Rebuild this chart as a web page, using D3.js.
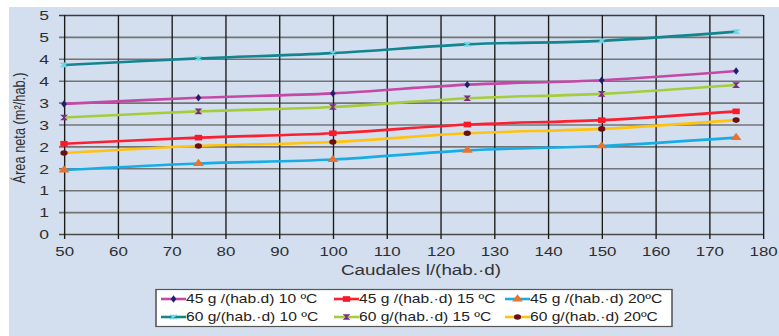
<!DOCTYPE html>
<html>
<head>
<meta charset="utf-8">
<script src="https://cdn.jsdelivr.net/npm/d3@7"></script>
<style>
  html, body { margin: 0; padding: 0; background: #ffffff; }
  svg { display: block; font-family: "Liberation Sans", Arial, sans-serif; }
</style>
</head>
<body>
<svg id="chart" width="779" height="336"></svg>
<script>
// Flow rates (x) and net area (y) per design case
const caudales = [50, 75, 100, 125, 150, 175];

const s45_10 = [2.97, 3.11, 3.21, 3.41, 3.51, 3.72];
const s45_15 = [2.06, 2.20, 2.30, 2.50, 2.60, 2.80];
const s45_20 = [1.46, 1.61, 1.70, 1.91, 2.01, 2.20];
const s60_10 = [3.86, 4.01, 4.13, 4.33, 4.41, 4.62];
const s60_15 = [2.66, 2.80, 2.90, 3.10, 3.20, 3.40];
const s60_20 = [1.85, 2.01, 2.10, 2.30, 2.40, 2.60];

const seriesNames = [
  "45 g /(hab.d) 10 ºC", "45 g /(hab.·d) 15 ºC", "45 g /(hab.·d) 20ºC",
  "60 g/(hab.·d) 10 ºC", "60 g/(hab.·d) 15 ºC", "60 g/(hab.·d) 20ºC"
];

const xTicks = [50, 60, 70, 80, 90, 100, 110, 120, 130, 140, 150, 160, 170, 180];
const yTicks = [0, 0.5, 1, 1.5, 2, 2.5, 3, 3.5, 4, 4.5, 5];
const yTickLabels = ["0", "1", "1", "2", "2", "3", "3", "4", "4", "5", "5"];

const xTitle = "Caudales l/(hab.·d)";
const yTitle = "Área neta (m²/hab.)";

// Styling per series
const styles = [
  { values: s45_10, line: "#c548a6", marker: "diamond", mfill: "#1c1f6a" },
  { values: s45_15, line: "#fb1f2f", marker: "square",  mfill: "#f81a2a" },
  { values: s45_20, line: "#16ade6", marker: "triangle", mfill: "#e8732e" },
  { values: s60_10, line: "#13858f", marker: "asterisk", mfill: "#72d4e2" },
  { values: s60_15, line: "#a5cd3b", marker: "hourglass", mfill: "#7b2a86" },
  { values: s60_20, line: "#ffc20e", marker: "circle",  mfill: "#6a1015" }
];

// Everything is drawn in a horizontally widened frame
const S = 1.3;
const svg = d3.select("#chart");

svg.append("rect")
  .attr("x", 9).attr("y", 7)
  .attr("width", 779 - 9).attr("height", 336 - 7)
  .attr("fill", "#d3dfef");

const g = svg.append("g").attr("transform", `scale(${S},1)`);

const x = d3.scaleLinear().domain([50, 180]).range([64 / S, 763 / S]);
const y = d3.scaleLinear().domain([0, 5]).range([234, 15]);

// Horizontal grid + y axis
const yAxis = g.append("g")
  .attr("transform", `translate(${x(50)},0)`)
  .call(d3.axisLeft(y).tickValues(yTicks).tickFormat((d, i) => yTickLabels[i]).tickSizeOuter(0));
yAxis.select(".domain").remove();
yAxis.selectAll(".tick line")
  .attr("x1", -5 / S)
  .attr("x2", x(180) - x(50))
  .attr("stroke", (d) => d === 0 ? "#4a4a4a" : (d === 5 ? "#3a3a3a" : "#747474"))
  .attr("stroke-width", 1.6);
yAxis.selectAll(".tick text")
  .attr("x", -15 / S)
  .attr("dy", "0.35em")
  .attr("fill", "#2e2e2e")
  .style("font-size", "13.5px")
  .style("font-family", "Liberation Sans, Arial, sans-serif");

// Vertical grid + x axis
const xAxis = g.append("g")
  .attr("transform", `translate(0,${y(0)})`)
  .call(d3.axisBottom(x).tickValues(xTicks).tickFormat(d3.format("d")).tickSizeOuter(0));
xAxis.select(".domain").remove();
xAxis.selectAll(".tick line")
  .attr("y1", 5)
  .attr("y2", y(5) - y(0))
  .attr("stroke", "#1b1b1b")
  .attr("stroke-width", 1.05);
xAxis.selectAll(".tick text")
  .attr("y", 22)
  .attr("dy", 0)
  .attr("fill", "#2e2e2e")
  .style("font-size", "13px")
  .style("font-family", "Liberation Sans, Arial, sans-serif");

// Axis titles
g.append("text")
  .attr("x", 421 / S).attr("y", 275)
  .attr("text-anchor", "middle")
  .attr("fill", "#333")
  .style("font-size", "14.5px")
  .text(xTitle);

g.append("text")
  .attr("transform", `translate(${25 / S},128) rotate(-90)`)
  .attr("text-anchor", "middle")
  .attr("fill", "#2e2e2e")
  .style("font-size", "12.8px")
  .text(yTitle);

// Marker shapes
function markerPath(kind) {
  switch (kind) {
    case "diamond": return d3.symbol(d3.symbolDiamond, 16)();
    case "square": return d3.symbol(d3.symbolSquare, 32)();
    case "triangle": return d3.symbol(d3.symbolTriangle, 30)();
    case "circle": return d3.symbol(d3.symbolCircle, 24)();
    case "asterisk": return "M-2.6,-2.2L2.6,2.2M-2.6,2.2L2.6,-2.2M0,-2.6L0,2.6";
    case "hourglass": return "M-3,-2.8L3,-2.8L0.6,0L3,2.8L-3,2.8L-0.6,0Z";
  }
}
function drawMarker(sel, st) {
  const p = sel.append("path").attr("d", markerPath(st.marker));
  if (st.marker === "asterisk") {
    p.attr("fill", "none").attr("stroke", st.mfill).attr("stroke-width", 1.4);
  } else {
    p.attr("fill", st.mfill);
  }
  return p;
}

// Series lines and markers
const line = d3.line()
  .x((d, i) => x(caudales[i]))
  .y((d) => y(d))
  .curve(d3.curveCatmullRom.alpha(0.5));

const plot = g.append("g");
styles.forEach((st) => {
  plot.append("path")
    .datum(st.values)
    .attr("d", line)
    .attr("fill", "none")
    .attr("stroke", st.line)
    .attr("stroke-width", 2.6);
  st.values.forEach((v, i) => {
    const m = plot.append("g").attr("transform", `translate(${x(caudales[i])},${y(v)})`);
    drawMarker(m, st);
  });
});

// Legend
const legend = g.append("g");
legend.append("rect")
  .attr("x", 156 / S).attr("y", 289.5)
  .attr("width", (672 - 156) / S).attr("height", 37)
  .attr("fill", "#ffffff")
  .attr("stroke", "#555")
  .attr("stroke-width", 1.2);

const colX = [161, 334, 505];
const rowY = [299, 317];
styles.forEach((st, i) => {
  const cx = colX[i % 3] / S;
  const cy = rowY[Math.floor(i / 3)];
  const item = legend.append("g").attr("transform", `translate(${cx},${cy})`);
  item.append("line")
    .attr("x1", 0).attr("x2", 25 / S)
    .attr("y1", 0).attr("y2", 0)
    .attr("stroke", st.line)
    .attr("stroke-width", 2.6);
  const m = item.append("g").attr("transform", `translate(${12.5 / S},0)`);
  drawMarker(m, st);
  item.append("text")
    .attr("x", 25 / S)
    .attr("y", 0)
    .attr("dy", "0.36em")
    .attr("fill", "#222")
    .style("font-size", "12px")
    .text(seriesNames[i]);
});
</script>
</body>
</html>
